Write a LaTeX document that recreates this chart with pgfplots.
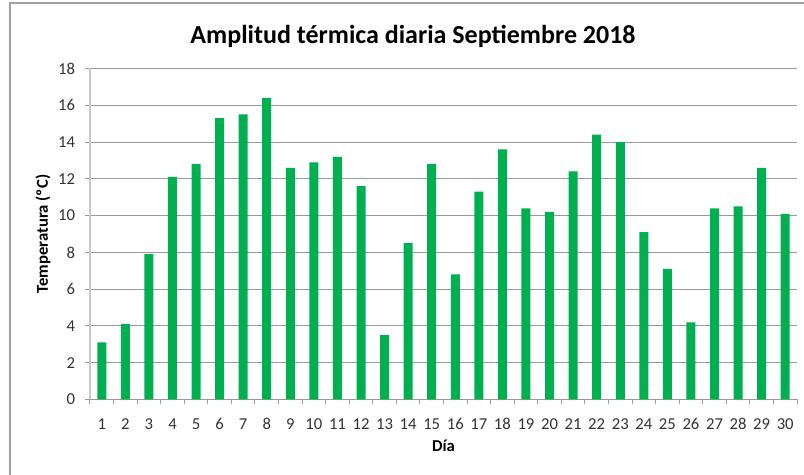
\documentclass[border=0pt]{standalone}
\usepackage{fontspec}
\setmainfont{Carlito}
\usepackage{pgfplots}
\pgfplotsset{compat=1.18}
\definecolor{bargreen}{HTML}{00B050}
\definecolor{gridgray}{HTML}{989898}
\definecolor{ygray}{HTML}{C8C8C8}
\definecolor{framegray}{HTML}{A0A0A0}
\begin{document}
\begin{tikzpicture}
\useasboundingbox (0,0) rectangle (603pt,356.25pt);
\draw[framegray, line width=0.9pt] (7.5pt,0) -- (7.5pt,354pt) -- (603pt,354pt);
\begin{axis}[
  at={(67.5pt,56.625pt)}, anchor=south west,
  scale only axis, width=530.25pt, height=248.25pt,
  xmin=0.5, xmax=30.5, ymin=0, ymax=18,
  axis x line*=bottom, axis y line*=left,
  x axis line style={draw=gridgray, line width=0.75pt},
  y axis line style={draw=ygray, line width=1.1pt},
  xtick={1,...,30},
  minor xtick={0.5,1.5,...,30.5},
  ytick={0,2,...,18},
  ymajorgrids, major grid style={draw=gridgray, line width=0.75pt},
  tick align=outside,
  major x tick style={draw=none},
  minor x tick style={draw=gridgray, line width=0.75pt},
  major y tick style={draw=gridgray, line width=0.75pt},
  major tick length=3.75pt, minor tick length=3.75pt,
  /pgf/number format/assume math mode=true,
  ticklabel style={font=\fontsize{12.5pt}{14pt}\selectfont, text=black!80},
  xticklabel style={yshift=-7pt},
  yticklabel style={xshift=-4pt},
  title={\bfseries Amplitud térmica diaria Septiembre 2018},
  title style={at={(axis description cs:0.4569,1.0725)}, anchor=center, yshift=0pt, font=\fontsize{19.5pt}{22pt}\selectfont},
  xlabel={\bfseries Día},
  xlabel style={at={(axis description cs:0.5,-0.1405)}, anchor=center, font=\fontsize{12.5pt}{14pt}\selectfont},
  ylabel={\bfseries Temperatura (ºC)},
  ylabel style={at={(axis description cs:-0.0665,0.5)}, anchor=center, font=\fontsize{12.5pt}{14pt}\selectfont},
  ybar, bar width=6.75pt, bar shift=0pt,
]
\addplot[fill=bargreen, draw=none] coordinates {
(1,3.1) (2,4.1) (3,7.9) (4,12.1) (5,12.8) (6,15.3) (7,15.5) (8,16.4) (9,12.6) (10,12.9)
(11,13.2) (12,11.6) (13,3.5) (14,8.5) (15,12.8) (16,6.8) (17,11.3) (18,13.6) (19,10.4) (20,10.2)
(21,12.4) (22,14.4) (23,14.0) (24,9.1) (25,7.1) (26,4.2) (27,10.4) (28,10.5) (29,12.6) (30,10.1)
};
\end{axis}
\end{tikzpicture}
\end{document}
